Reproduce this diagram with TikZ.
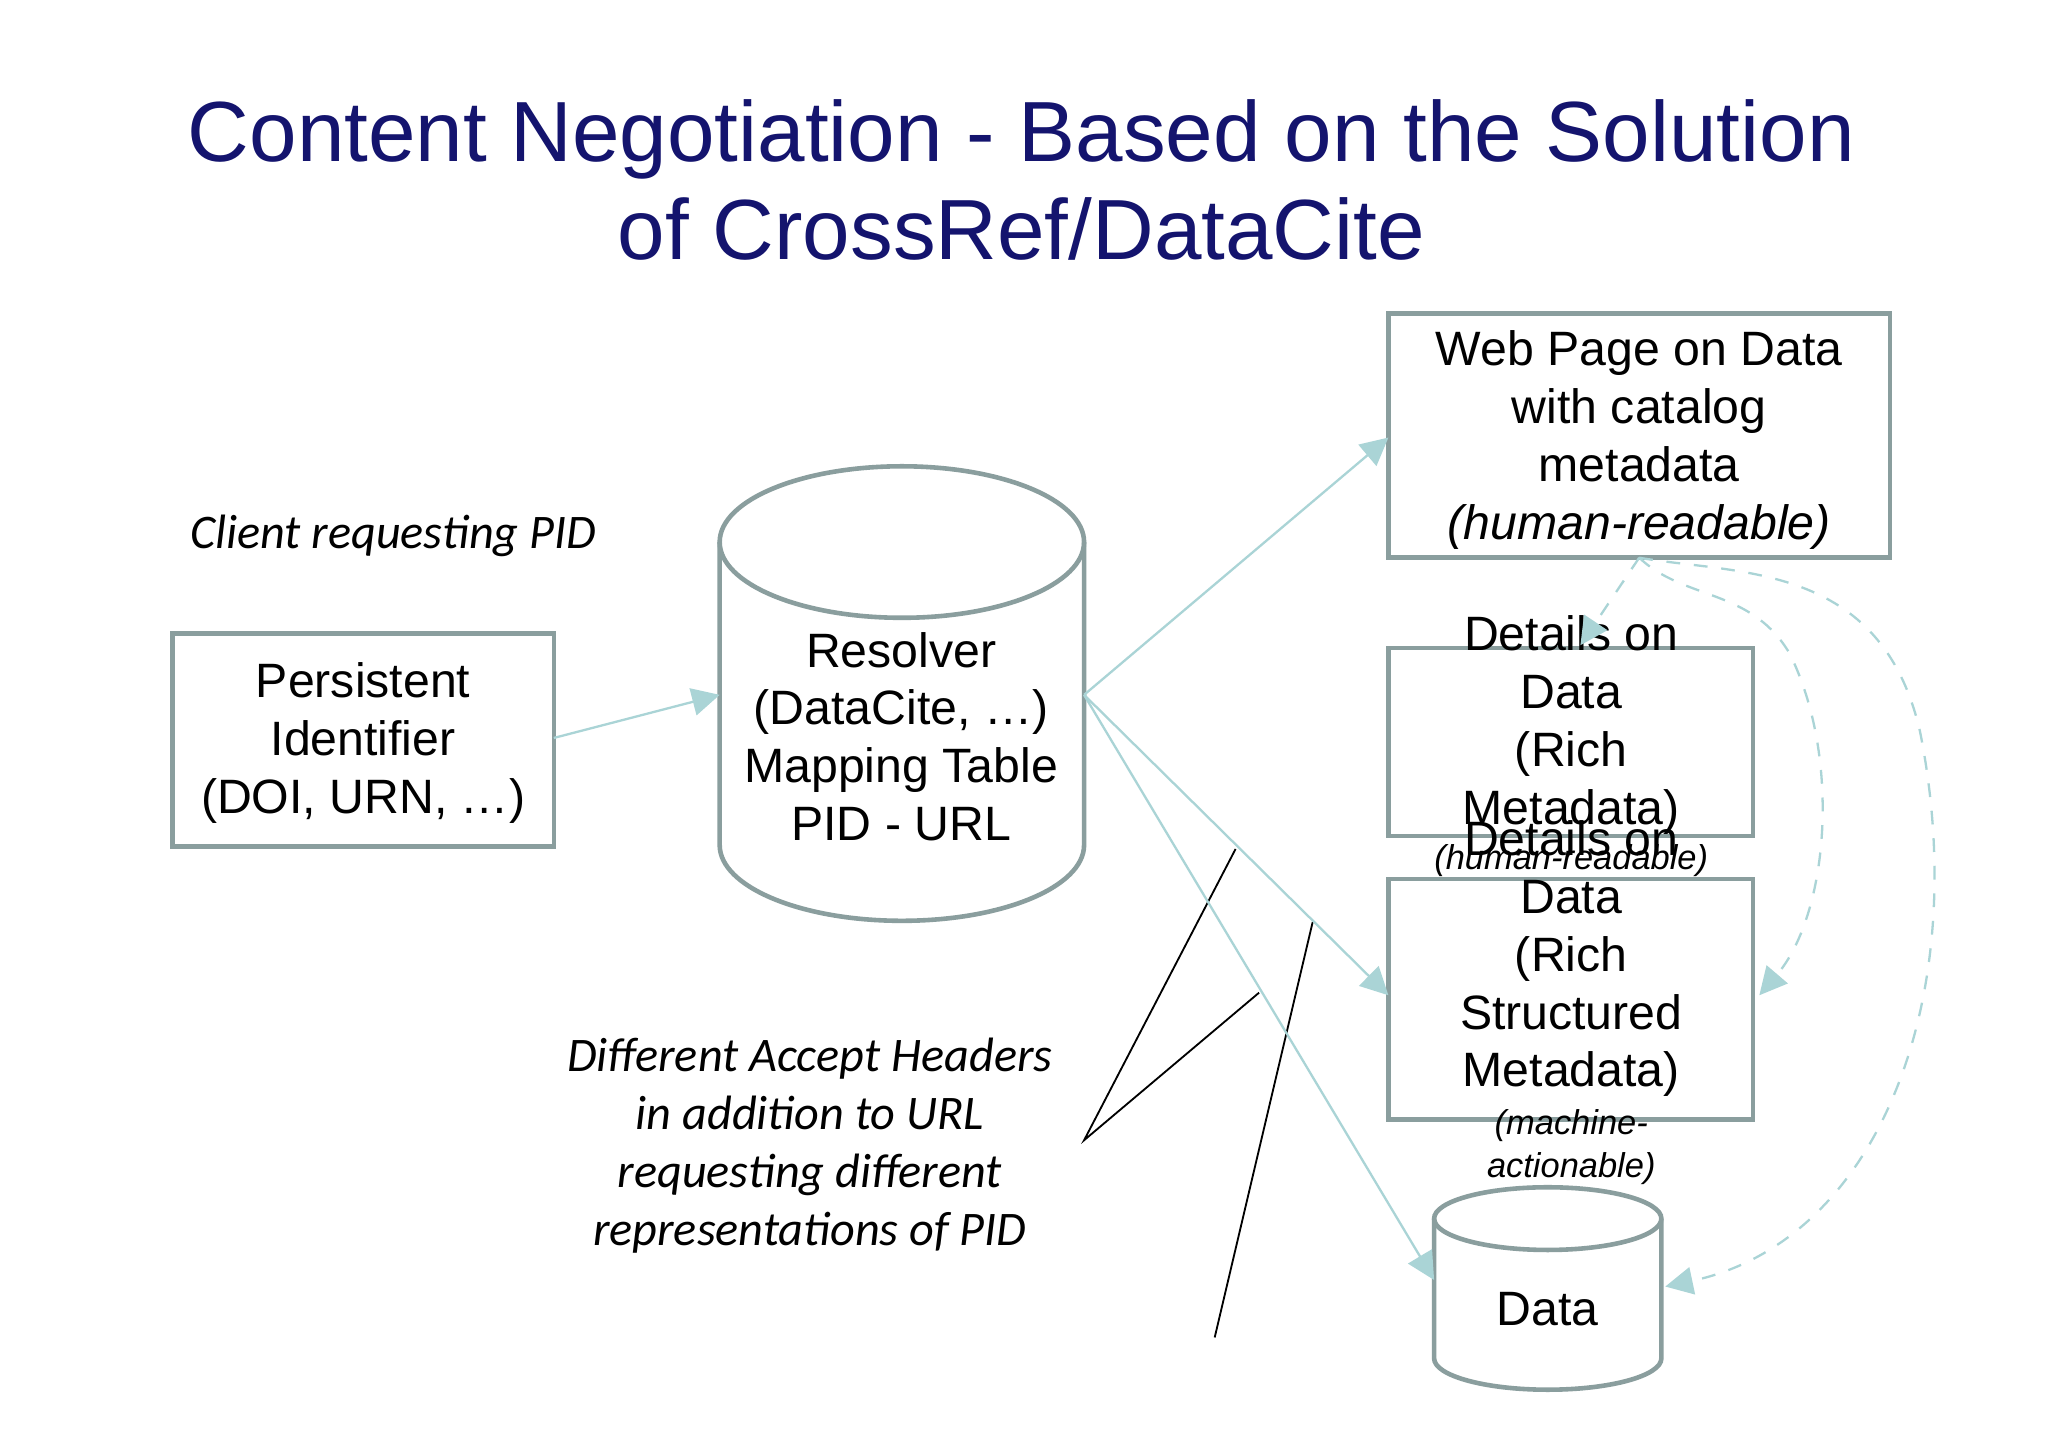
\documentclass[tikz,border=0pt]{standalone}
\usepackage{fontspec}
\setmainfont{Liberation Sans}
\newfontfamily\carl{Carlito}
\usetikzlibrary{arrows.meta}
\definecolor{navy}{RGB}{20,20,110}
\definecolor{bord}{RGB}{138,158,158}
\definecolor{arr}{RGB}{170,212,214}
\begin{document}
\begin{tikzpicture}[x=0.01cm,y=-0.01cm,
  box/.style={draw=bord,line width=1pt},
  txt/.style={font=\fontsize{10.5}{12.6}\selectfont,align=center,text=black},
  ital/.style={font=\carl\itshape\fontsize{10.5}{12.6}\selectfont,align=center},
  small/.style={font=\itshape\fontsize{7.5}{9.3}\selectfont,align=center},
  arrw/.style={draw=arr,line width=0.5pt,-{Triangle[length=6pt,width=6pt]}},
  dasharr/.style={draw=arr,dashed,line width=0.5pt,-{Triangle[length=6pt,width=6pt]}}]
\fill[white] (0,0) rectangle (1568,1109);
\node[font=\fontsize{18.6}{21.3}\selectfont,text=navy,align=center] (title) at (782,138) {Content Negotiation - Based on the Solution\\of CrossRef/DataCite};
% PID box
\draw[box] (132,485) rectangle (424,648);
\node[txt] (pid) at (278,569) {Persistent\\Identifier\\(DOI, URN, \dots)};
\coordinate (pidr) at (424,565);
% resolver cylinder
\draw[box,fill=white] (551,415) -- (551,647) arc[start angle=180,end angle=0,x radius=139.5,y radius=58] -- (830,415);
\draw[box] (690.5,415) ellipse[x radius=139.5,y radius=58];
\node[txt] (res) at (690,564) {Resolver\\(DataCite, \dots)\\Mapping Table\\PID - URL};
\coordinate (resl) at (551,532);
\coordinate (resr) at (830,532);
\node[ital] (client) at (301,410) {Client requesting PID};
% web page
\draw[box] (1063,240) rectangle (1447,427);
\node[txt] (web) at (1255,337) {Web Page on Data\\with catalog\\metadata\\\textit{(human-readable)}};
\coordinate (webl) at (1063,335);
\coordinate (webb) at (1255,427);
% details 1
\draw[box] (1063,496) rectangle (1342,640);
\node[txt] (d1) at (1203,555) {Details on\\Data\\(Rich\\Metadata)};
\node[small] (d1s) at (1203,659) {(human-readable)};
% details 2
\draw[box] (1063,673) rectangle (1342,857);
\node[txt] (d2) at (1203,734) {Details on\\Data\\(Rich\\Structured\\Metadata)};
\node[small] (d2s) at (1203,878) {(machine-\\actionable)};
% data cylinder
\draw[box,fill=white] (1098,933) -- (1098,1040) arc[start angle=180,end angle=0,x radius=87,y radius=24] -- (1272,933);
\draw[box] (1185,933) ellipse[x radius=87,y radius=24];
\node[txt] (data) at (1185,1002) {Data};
% accept headers
\node[ital] (acc) at (620,877) {Different Accept Headers\\in addition to URL\\requesting different\\representations of PID};
\coordinate (a0) at (830,873);
\coordinate (a1) at (946,650);
\coordinate (a2) at (964,760);
\coordinate (b0) at (930,1024);
\coordinate (b1) at (1005,706);
\draw[black,line width=0.4pt] (a1) -- (a0) -- (a2);
\draw[black,line width=0.4pt] (b0) -- (b1);
% arrows
\draw[arrw] (pidr) -- (resl);
\draw[arrw] (resr) -- (webl);
\draw[arrw] (resr) -- (1063,762);
\draw[arrw] (resr) -- (1098,980);
\draw[dasharr] (webb) -- (1210,494);
\draw[dasharr] (webb) .. controls (1290,460) and (1340,450) .. (1370,500) .. controls (1410,580) and (1400,700) .. (1347,762);
\draw[dasharr] (webb) .. controls (1330,440) and (1440,430) .. (1470,560) .. controls (1510,760) and (1440,950) .. (1275,985);
\end{tikzpicture}
\end{document}
